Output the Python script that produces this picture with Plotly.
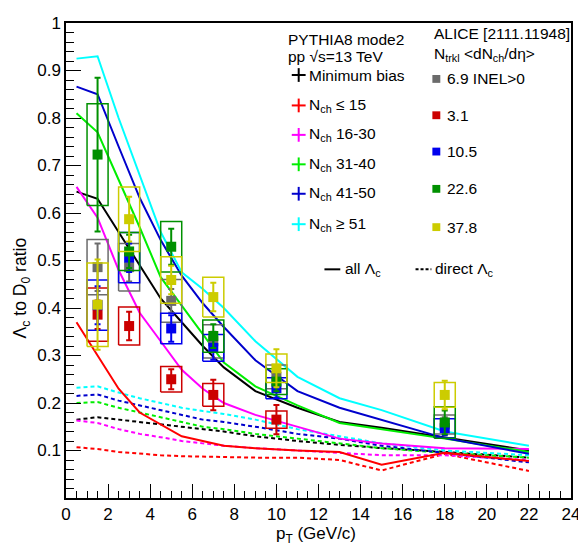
import plotly.graph_objects as go

# ---------------- data ----------------
pt_model = [0.5, 1.5, 2.5, 3.5, 4.5, 5.5, 6.5, 7.5, 9, 11, 13, 15, 18, 22]

all_mb     = [0.645, 0.63, 0.56, 0.49, 0.42, 0.37, 0.32, 0.275, 0.225, 0.19, 0.16, 0.148, 0.128, 0.100]
all_n15    = [0.37, 0.30, 0.23, 0.18, 0.155, 0.13, 0.12, 0.11, 0.105, 0.10, 0.097, 0.07, 0.095, 0.078]
all_n16_30 = [0.655, 0.59, 0.48, 0.39, 0.33, 0.27, 0.23, 0.20, 0.175, 0.15, 0.125, 0.115, 0.105, 0.103]
all_n31_40 = [0.81, 0.77, 0.67, 0.57, 0.465, 0.405, 0.345, 0.285, 0.235, 0.195, 0.158, 0.145, 0.125, 0.097]
all_n41_50 = [0.866, 0.85, 0.74, 0.632, 0.543, 0.468, 0.41, 0.36, 0.29, 0.225, 0.19, 0.165, 0.126, 0.093]
all_n51    = [0.925, 0.93, 0.80, 0.68, 0.56, 0.475, 0.44, 0.40, 0.33, 0.255, 0.21, 0.185, 0.14, 0.11]

dir_mb     = [0.165, 0.17, 0.165, 0.16, 0.155, 0.15, 0.145, 0.14, 0.13, 0.12, 0.112, 0.105, 0.097, 0.085]
dir_n15    = [0.107, 0.103, 0.097, 0.093, 0.09, 0.088, 0.087, 0.085, 0.085, 0.085, 0.08, 0.058, 0.093, 0.057]
dir_n16_30 = [0.163, 0.158, 0.145, 0.135, 0.128, 0.12, 0.115, 0.11, 0.105, 0.10, 0.095, 0.09, 0.09, 0.08]
dir_n31_40 = [0.20, 0.202, 0.19, 0.18, 0.17, 0.16, 0.15, 0.145, 0.135, 0.125, 0.115, 0.105, 0.095, 0.085]
dir_n41_50 = [0.215, 0.218, 0.205, 0.195, 0.185, 0.175, 0.165, 0.16, 0.15, 0.135, 0.125, 0.11, 0.095, 0.075]
dir_n51    = [0.232, 0.235, 0.222, 0.21, 0.20, 0.19, 0.183, 0.177, 0.165, 0.145, 0.13, 0.115, 0.10, 0.09]

pt_data = [1.5, 3, 5, 7, 10, 18]
pt_halfwidth = 0.5

d_69_y    = [0.486, 0.486, 0.415, 0.33, 0.255, 0.155]
d_69_stat = [0.05, 0.03, 0.025, 0.02, 0.02, 0.015]
d_69_sys  = [0.058, 0.05, 0.045, 0.035, 0.025, 0.02]

d_31_y    = [0.386, 0.362, 0.25, 0.217, 0.165, None]
d_31_stat = [0.03, 0.03, 0.021, 0.032, 0.031, None]
d_31_sys  = [0.056, 0.04, 0.027, 0.024, 0.018, None]

d_105_y    = [0.406, 0.506, 0.357, 0.316, 0.231, 0.147]
d_105_stat = [0.04, 0.03, 0.028, 0.025, 0.02, 0.015]
d_105_sys  = [0.053, 0.053, 0.032, 0.028, 0.022, 0.02]

d_226_y    = [0.723, 0.519, 0.529, 0.341, 0.245, 0.159]
d_226_stat = [0.162, 0.035, 0.038, 0.025, 0.02, 0.025]
d_226_sys  = [0.107, 0.04, 0.053, 0.034, 0.027, 0.033]

d_378_y    = [0.407, 0.587, 0.459, 0.423, 0.273, 0.217]
d_378_stat = [0.095, 0.047, 0.03, 0.03, 0.04, 0.03]
d_378_sys  = [0.088, 0.068, 0.049, 0.042, 0.03, 0.026]

y_tickvals = [0.1, 0.2, 0.3, 0.4, 0.5, 0.6, 0.7, 0.8, 0.9, 1.0]
y_ticktext = ["0.1", "0.2", "0.3", "0.4", "0.5", "0.6", "0.7", "0.8", "0.9", "1"]

model_labels = ["Minimum bias", "N<sub>ch</sub> ≤ 15", "N<sub>ch</sub> 16-30",
                "N<sub>ch</sub> 31-40", "N<sub>ch</sub> 41-50", "N<sub>ch</sub> ≥ 51"]
data_labels = ["6.9 INEL>0", "3.1", "10.5", "22.6", "37.8"]

# ---------------- styles ----------------
FONT = "Liberation Sans, Arial, sans-serif"
model_colors = ["#000000", "#ff0000", "#ff00ff", "#00ee00", "#0000cc", "#00ffff"]
data_colors = ["#6b6b6b", "#cc0000", "#0000ee", "#009000", "#cccc00"]

fig = go.Figure()

all_sets = [all_mb, all_n15, all_n16_30, all_n31_40, all_n41_50, all_n51]
dir_sets = [dir_mb, dir_n15, dir_n16_30, dir_n31_40, dir_n41_50, dir_n51]

for ys, col in zip(dir_sets, model_colors):
    fig.add_trace(go.Scatter(x=pt_model, y=ys, mode="lines",
                             line=dict(color=col, width=2, dash="4px,3px"),
                             showlegend=False, hoverinfo="skip"))
for ys, col in zip(all_sets, model_colors):
    fig.add_trace(go.Scatter(x=pt_model, y=ys, mode="lines",
                             line=dict(color=col, width=2),
                             showlegend=False, hoverinfo="skip"))

data_sets = [(d_69_y, d_69_stat, d_69_sys), (d_31_y, d_31_stat, d_31_sys),
             (d_105_y, d_105_stat, d_105_sys), (d_226_y, d_226_stat, d_226_sys),
             (d_378_y, d_378_stat, d_378_sys)]

for (ys, st, sy), col in zip(data_sets, data_colors):
    bx, by = [], []
    for x, y, s in zip(pt_data, ys, sy):
        if y is None:
            continue
        bx += [x - pt_halfwidth, x + pt_halfwidth, x + pt_halfwidth, x - pt_halfwidth, x - pt_halfwidth, None]
        by += [y - s, y - s, y + s, y + s, y - s, None]
    fig.add_trace(go.Scatter(x=bx, y=by, mode="lines", line=dict(color=col, width=1.5),
                             showlegend=False, hoverinfo="skip"))
    xs = [x for x, y in zip(pt_data, ys) if y is not None]
    yv = [y for y in ys if y is not None]
    ev = [e for e, y in zip(st, ys) if y is not None]
    fig.add_trace(go.Scatter(x=xs, y=yv, mode="markers",
                             marker=dict(symbol="square", size=10, color=col),
                             error_y=dict(type="data", array=ev, color=col, thickness=2, width=3),
                             showlegend=False, hoverinfo="skip"))

# ---------------- layout geometry (window pixels; page body has an 8px margin) ----------------
OFF = 8
W, H = 586 - OFF, 546 - OFF
L, R, T, B = 66, 576, 14, 498          # plot frame in window pixels

def px(xp):
    return (xp - L) / (R - L)
def py(yp):
    return (B - yp) / (B - T)

annotations = []
shapes = []
def text(x, y, s, size=15.5):
    annotations.append(dict(x=px(x), y=py(y), xref="paper", yref="paper", text=s,
                            showarrow=False, xanchor="left", yanchor="middle",
                            font=dict(family=FONT, size=size, color="black")))

text(288, 31, "PYTHIA8 mode2")
text(288, 48, "pp √s=13 TeV")
model_rows = [67, 98, 128, 158, 188, 219]
for lab, col, yy in zip(model_labels, model_colors, model_rows):
    shapes.append(dict(type="line", xref="paper", yref="paper", x0=px(294), x1=px(308),
                       y0=py(yy), y1=py(yy), line=dict(color=col, width=2)))
    shapes.append(dict(type="line", xref="paper", yref="paper", x0=px(301), x1=px(301),
                       y0=py(yy - 7), y1=py(yy + 7), line=dict(color=col, width=2)))
    text(309, yy, lab)

text(436, 25, "ALICE [2111.11948]")
text(436, 46, "N<sub>trkl</sub> &lt;dN<sub>ch</sub>/dη&gt;")
data_rows = [71, 108, 145, 183, 222]
for lab, col, yy in zip(data_labels, data_colors, data_rows):
    shapes.append(dict(type="rect", xref="paper", yref="paper", x0=px(436), x1=px(444),
                       y0=py(yy + 4), y1=py(yy - 4), fillcolor=col, line=dict(width=0)))
    text(449, yy, lab)

shapes.append(dict(type="line", xref="paper", yref="paper", x0=px(327), x1=px(343),
                   y0=py(265), y1=py(265), line=dict(color="black", width=2)))
text(346, 265, "all Λ<sub>c</sub>")
shapes.append(dict(type="line", xref="paper", yref="paper", x0=px(419), x1=px(435),
                   y0=py(265), y1=py(265), line=dict(color="black", width=2, dash="3px,2px")))
text(437, 265, "direct Λ<sub>c</sub>")

# axis titles
annotations.append(dict(x=px(318), y=py(536), xref="paper", yref="paper",
                        text="p<sub>T</sub> (GeV/c)", showarrow=False,
                        xanchor="center", yanchor="middle",
                        font=dict(family=FONT, size=17, color="black")))
annotations.append(dict(x=px(22), y=py(284), xref="paper", yref="paper",
                        text="Λ<sub>c</sub> to D<sub>0</sub> ratio", showarrow=False,
                        xanchor="center", yanchor="middle", textangle=-90,
                        font=dict(family=FONT, size=17.5, color="black")))

fig.update_layout(
    width=W, height=H,
    margin=dict(l=L - OFF, r=586 - R, t=T - OFF, b=546 - B, pad=0),
    paper_bgcolor="white", plot_bgcolor="white",
    showlegend=False,
    annotations=annotations, shapes=shapes,
    font=dict(family=FONT, size=17, color="black"),
)
fig.update_xaxes(range=[0, 24], dtick=2, tick0=0, ticks="inside", ticklen=14, tickwidth=1,
                 tickcolor="black", showline=True, linecolor="black", linewidth=1.5, mirror=True,
                 showgrid=False, zeroline=False, ticklabeloverflow="allow",
                 minor=dict(tickmode="linear", tick0=0, dtick=0.5, ticks="inside", ticklen=7,
                            tickcolor="black", showgrid=False),
                 tickfont=dict(family=FONT, size=17))
fig.update_yaxes(range=[0, 1.0], tickmode="array", tickvals=y_tickvals, ticktext=y_ticktext,
                 ticks="inside", ticklen=15, tickwidth=1,
                 tickcolor="black", showline=True, linecolor="black", linewidth=1.5, mirror=True,
                 showgrid=False, zeroline=False, ticklabeloverflow="allow",
                 minor=dict(tickmode="linear", tick0=0, dtick=0.02, ticks="inside", ticklen=8,
                            tickcolor="black", showgrid=False),
                 tickfont=dict(family=FONT, size=17))

fig.write_html("out.html")
